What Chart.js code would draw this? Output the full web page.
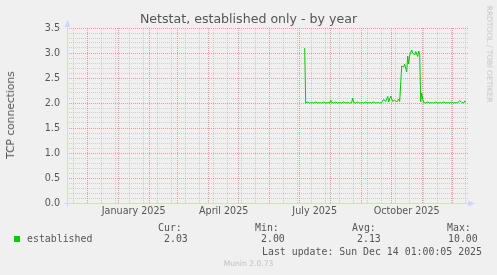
<!DOCTYPE html>
<html lang="en">
<head>
<meta charset="UTF-8">
<title>Netstat, established only - by year</title>
<script src="https://cdn.jsdelivr.net/npm/chart.js"></script>
<style>
    body {
        margin: 0;
        background: #f0f0f0;
    }
    #wrap {
        position: relative;
        width: 497px;
        height: 275px;
        background: #f0f0f0;
        color: #555;
        font-family: "DejaVu Sans", sans-serif;
    }
    #wrap canvas {
        position: absolute;
        left: 0;
        top: 0;
    }
    .t {
        position: absolute;
        white-space: nowrap;
        line-height: 12px;
    }
    .mono {
        font-family: "DejaVu Sans Mono", monospace;
        font-size: 9.9px;
    }
</style>
</head>
<body>
<div id="wrap">
    <canvas id="chart" width="497" height="275"></canvas>
    <div class="t" id="title" style="left:0;width:497px;text-align:center;top:13px;font-size:12.6px;">Netstat, established only - by year</div>
    <div class="t" style="left:11px;top:115px;font-size:10.7px;transform:translate(-50%,-50%) rotate(-90deg);">TCP connections</div>
    <div class="t" style="left:489px;top:54px;font-size:7.5px;color:#c4c4c4;transform:translate(-50%,-50%) rotate(90deg);">RRDTOOL / TOBI OETIKER</div>

    <div class="t mono" style="left:158px;top:222px;">Cur:</div>
    <div class="t mono" style="left:255px;top:222px;">Min:</div>
    <div class="t mono" style="left:352px;top:222px;">Avg:</div>
    <div class="t mono" style="left:447px;top:222px;">Max:</div>

    <div style="position:absolute;left:14px;top:236px;width:6px;height:6px;background:#00cc00;"></div>
    <div class="t mono" style="left:27px;top:233px;">established</div>
    <div class="t mono" style="left:164px;top:233px;">2.03</div>
    <div class="t mono" style="left:261px;top:233px;">2.00</div>
    <div class="t mono" style="left:357px;top:233px;">2.13</div>
    <div class="t mono" style="left:448px;top:233px;">10.00</div>

    <div class="t mono" style="left:262px;top:246px;">Last update: Sun Dec 14 01:00:05 2025</div>
    <div class="t" style="left:0;width:497px;text-align:center;top:258px;font-size:7.6px;color:#c0c0c0;">Munin 2.0.73</div>
</div>

<script>
    // day 0 = 1 January 2025, one value per sampled day
    const days = [
        186, 187, 189, 191, 193, 195, 197, 199, 201, 203, 205, 207, 209, 211, 212, 213,
        215, 217, 219, 221, 223, 225, 227, 229, 231, 233, 234, 235, 237, 239, 241, 243,
        245, 247, 249, 251, 253, 255, 257, 259, 261, 263, 265, 267, 269, 270, 272, 274,
        276, 278, 280, 281, 283, 285, 286, 288, 289, 290, 291, 293, 294, 296, 297, 299,
        300, 301, 302, 303, 304, 305, 307, 309, 311, 313, 315, 317, 319, 321, 323, 325,
        327, 329, 331, 333, 335, 337, 339, 341, 343, 345, 346, 347
    ];
    const connections = [
        3.10, 2.00, 2.02, 2.00, 2.01, 2.00, 2.02, 2.00, 2.01, 2.00, 2.02, 2.00, 2.01, 2.00, 2.06, 2.01,
        2.00, 2.02, 2.00, 2.01, 2.00, 2.02, 2.00, 2.01, 2.00, 2.01, 2.10, 2.01, 2.00, 2.02, 2.00, 2.01,
        2.00, 2.02, 2.00, 2.01, 2.00, 2.02, 2.00, 2.01, 2.00, 2.01, 2.07, 2.03, 2.13, 2.02, 2.14, 2.03,
        2.06, 2.02, 2.08, 2.03, 2.74, 2.72, 2.78, 2.62, 2.94, 2.78, 2.96, 3.06, 3.00, 2.96, 3.03, 2.93,
        3.04, 2.98, 2.02, 2.20, 2.08, 2.01, 2.00, 2.02, 2.00, 2.01, 2.00, 2.02, 2.00, 2.01, 2.00, 2.02,
        2.00, 2.01, 2.00, 2.02, 2.00, 2.01, 2.00, 2.05, 2.01, 2.00, 2.04, 2.03
    ];

    const monthStarts = [-31, 0, 31, 59, 90, 120, 151, 181, 212, 243, 273, 304, 334];
    const labelDays = [15, 105, 196, 288];
    const labelNames = ['January 2025', 'April 2025', 'July 2025', 'October 2025'];

    // minor grid every two weeks
    const minorDays = [];
    for (let d = -45; d <= 349; d += 14) minorDays.push(d);

    const yTicks = [];
    for (let i = 0; i <= 35; i++) yTicks.push(i / 10);

    const gridColor = 'rgba(128,128,128,0.3)';
    const majorColor = 'rgba(228,110,110,0.65)';
    const axisColor = '#cfd6f8';

    const xTickValues = [...new Set([...minorDays, ...monthStarts, ...labelDays])].sort((a, b) => a - b);

    // axis lines with arrows, drawn like rrdtool
    const axisArrows = {
        id: 'axisArrows',
        afterDraw(chart) {
            const { ctx, chartArea } = chart;
            const l = chartArea.left + 0.5;
            const b = chartArea.bottom + 0.5;
            ctx.save();
            ctx.strokeStyle = axisColor;
            ctx.fillStyle = axisColor;
            ctx.lineWidth = 1;
            ctx.beginPath();
            ctx.moveTo(l, b + 3);
            ctx.lineTo(l, chartArea.top - 4);
            ctx.moveTo(l - 3, b);
            ctx.lineTo(chartArea.right + 2, b);
            ctx.stroke();
            ctx.beginPath();
            ctx.moveTo(l, chartArea.top - 8);
            ctx.lineTo(l - 3, chartArea.top - 1);
            ctx.lineTo(l + 3, chartArea.top - 1);
            ctx.closePath();
            ctx.fill();
            ctx.beginPath();
            ctx.moveTo(chartArea.right + 7, b);
            ctx.lineTo(chartArea.right, b - 3);
            ctx.lineTo(chartArea.right, b + 3);
            ctx.closePath();
            ctx.fill();
            ctx.restore();
        }
    };

    new Chart(document.getElementById('chart'), {
        type: 'line',
        data: {
            datasets: [{
                label: 'established',
                data: days.map((d, i) => ({ x: d, y: connections[i] })),
                borderColor: '#00cc00',
                borderWidth: 1,
                pointRadius: 0,
                tension: 0,
                fill: false
            }]
        },
        options: {
            responsive: false,
            animation: false,
            devicePixelRatio: 1,
            layout: { padding: { top: 28, right: 29, left: 0, bottom: 0 } },
            plugins: {
                legend: { display: false },
                title: { display: false },
                tooltip: { enabled: false }
            },
            scales: {
                x: {
                    type: 'linear',
                    min: -51.7,
                    max: 349.3,
                    afterBuildTicks: s => { s.ticks = xTickValues.map(v => ({ value: v })); },
                    afterFit: s => { s.height = 72; },
                    ticks: {
                        autoSkip: false,
                        maxRotation: 0,
                        padding: 3,
                        color: '#555',
                        font: { family: 'DejaVu Sans', size: 9.6 },
                        callback: v => {
                            const i = labelDays.indexOf(v);
                            return i >= 0 ? labelNames[i] : '';
                        }
                    },
                    grid: {
                        drawTicks: false,
                        lineWidth: 1,
                        color: c => {
                            const v = c.tick ? c.tick.value : null;
                            if (monthStarts.includes(v)) return majorColor;
                            if (minorDays.includes(v)) return gridColor;
                            return 'rgba(0,0,0,0)';
                        }
                    },
                    border: { display: false, dash: [1, 1] }
                },
                y: {
                    min: 0,
                    max: 3.5,
                    afterBuildTicks: s => { s.ticks = yTicks.map(v => ({ value: v })); },
                    afterFit: s => { s.width = 67; },
                    ticks: {
                        autoSkip: false,
                        padding: 7,
                        color: '#555',
                        font: { family: 'DejaVu Sans', size: 9.6 },
                        callback: v => (Math.round(v * 10) % 5 === 0 ? v.toFixed(1) : '')
                    },
                    grid: {
                        drawTicks: false,
                        lineWidth: 1,
                        color: c => {
                            const v = c.tick ? Math.round(c.tick.value * 10) : 1;
                            return v % 5 === 0 ? majorColor : gridColor;
                        }
                    },
                    border: { display: false, dash: [1, 1] }
                }
            }
        },
        plugins: [axisArrows]
    });
</script>
</body>
</html>
